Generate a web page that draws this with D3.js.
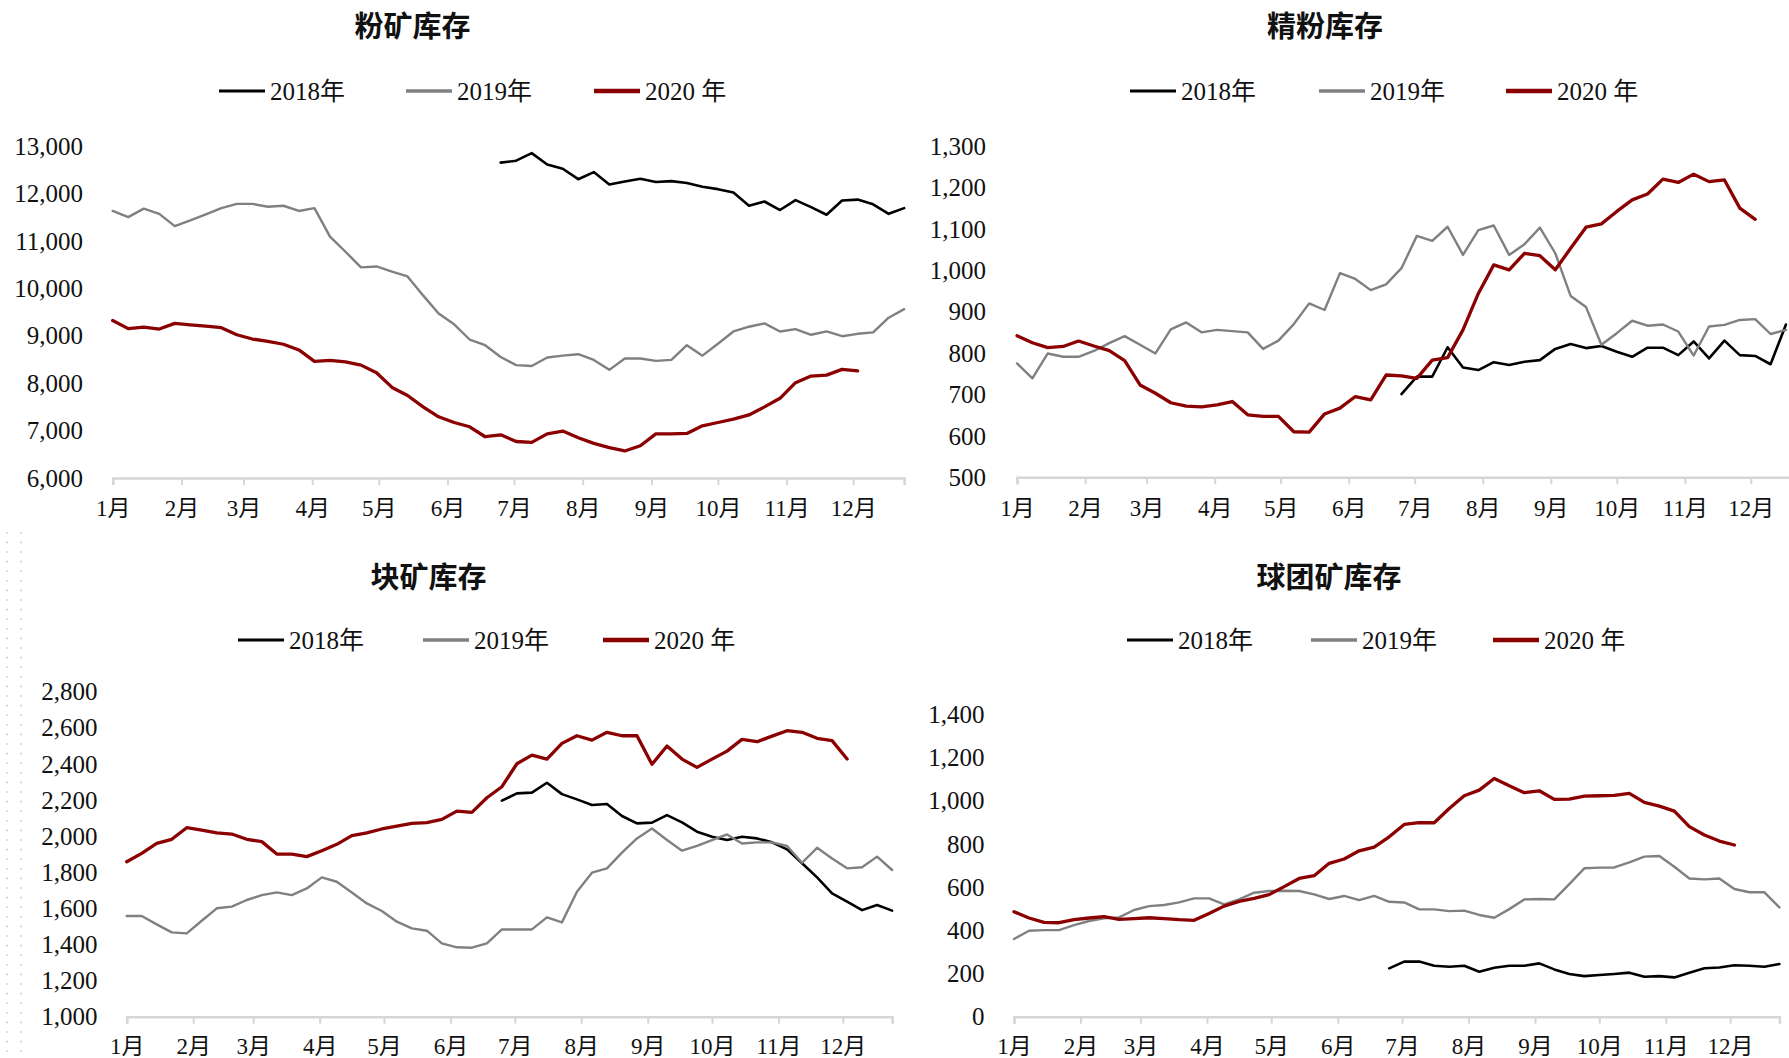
<!DOCTYPE html>
<html><head><meta charset="utf-8">
<script src="https://cdn.jsdelivr.net/npm/d3@7"></script>
<style>body{margin:0;background:#fff}svg{display:block}</style>
</head><body>
<svg id="c" width="1789" height="1058"></svg>
<script>
// ---------- data ----------
const months = ["1月","2月","3月","4月","5月","6月","7月","8月","9月","10月","11月","12月"];
const seriesNames = ["2018年","2019年","2020 年"];
const seriesColors = ["#000000","#808080","#8b0000"];
// weekly series; first observation date (plotted on a common calendar year)
const start2018 = "2019-06-25";
const start2019 = "2019-01-01";
const start2020 = "2019-01-01";

// 粉矿库存
const fine2018 = [12650,12690,12850,12610,12520,12300,12450,12190,12250,12310,12240,12260,12220,12140,12090,12020,11740,11830,11650,11860,11710,11550,11850,11870,11770,11570,11690];
const fine2019 = [11630,11500,11680,11570,11310,11430,11560,11690,11780,11780,11720,11740,11630,11690,11090,10770,10440,10460,10350,10250,9850,9470,9240,8920,8800,8550,8380,8360,8540,8580,8610,8490,8280,8520,8520,8470,8490,8800,8580,8830,9090,9190,9260,9090,9140,9020,9090,8990,9040,9070,9380,9560];
const fine2020 = [9320,9150,9180,9140,9260,9230,9200,9170,9020,8930,8880,8820,8700,8460,8480,8450,8380,8220,7910,7740,7500,7290,7170,7080,6870,6910,6770,6750,6930,6990,6850,6730,6640,6570,6680,6930,6930,6940,7100,7170,7240,7330,7500,7680,8010,8150,8170,8290,8260];
const fineTicks = [6000,7000,8000,9000,10000,11000,12000,13000];

// 精粉库存
const conc2018 = [701,743,743,814,765,759,778,771,779,783,810,822,812,817,803,791,813,813,795,828,787,830,795,793,773,869];
const conc2019 = [775,739,799,791,791,805,824,841,820,799,857,874,850,856,853,850,810,830,870,920,904,993,979,952,966,1005,1083,1071,1105,1037,1097,1108,1037,1063,1103,1041,938,911,820,848,878,866,869,852,794,864,868,880,882,846,856];
const conc2020 = [842,825,813,816,829,817,806,782,723,703,680,672,670,675,683,651,647,647,610,609,653,667,695,687,747,745,739,783,789,856,944,1013,1001,1041,1035,1001,1053,1104,1112,1142,1170,1184,1220,1212,1232,1214,1218,1150,1123];
const concTicks = [500,600,700,800,900,1000,1100,1200,1300];

// 块矿库存
const lump2018 = [2196,2236,2240,2295,2232,2203,2172,2177,2111,2070,2074,2116,2076,2024,1996,1978,1996,1987,1965,1926,1849,1771,1683,1637,1590,1618,1587];
const lump2019 = [1557,1557,1511,1467,1461,1531,1600,1609,1646,1673,1688,1673,1710,1771,1747,1688,1627,1585,1526,1489,1476,1406,1384,1382,1406,1483,1483,1483,1550,1522,1692,1797,1821,1908,1987,2042,1978,1919,1946,1978,2009,1959,1965,1965,1945,1852,1935,1876,1821,1827,1886,1812];
const lump2020 = [1858,1904,1959,1982,2046,2033,2018,2011,1982,1969,1900,1900,1886,1919,1954,2002,2018,2039,2055,2070,2074,2092,2138,2131,2212,2273,2400,2448,2426,2513,2555,2531,2574,2555,2555,2397,2498,2426,2380,2426,2470,2535,2522,2553,2583,2574,2541,2528,2426];
const lumpTicks = [1000,1200,1400,1600,1800,2000,2200,2400,2600,2800];

// 球团矿库存
const pellet2018 = [224,255,255,236,231,236,208,227,236,236,247,219,198,188,193,198,204,185,188,182,204,224,228,238,236,231,244];
const pellet2019 = [360,398,401,401,424,443,455,460,494,512,517,529,548,548,520,543,574,582,583,582,566,545,559,540,559,532,529,497,497,489,491,471,458,498,543,545,543,614,687,690,691,714,741,744,694,640,636,640,591,576,576,506];
const pellet2020 = [486,457,437,435,449,457,463,451,454,458,454,449,446,478,512,534,548,565,602,640,653,710,730,768,785,833,890,898,898,964,1023,1049,1103,1069,1037,1046,1006,1007,1021,1023,1025,1034,992,975,952,880,841,813,795];
const pelletTicks = [0,200,400,600,800,1000,1200,1400];

// ---------- layout ----------
const charts = [
  {title:"粉矿库存", series:[fine2018,fine2019,fine2020], ticks:fineTicks,
   x0:112.7, perDay:2.217, yTop:146, yBot:478, titleX:412.5, titleY:27,
   legendY:91, legendX:[219,406,594], yLabX:83, xLabY:508},
  {title:"精粉库存", series:[conc2018,conc2019,conc2020], ticks:concTicks,
   x0:1017, perDay:2.197, yTop:146, yBot:477.3, titleX:1325, titleY:27,
   legendY:91, legendX:[1130,1319,1506], yLabX:986, xLabY:508},
  {title:"块矿库存", series:[lump2018,lump2019,lump2020], ticks:lumpTicks,
   x0:126.7, perDay:2.144, yTop:691.5, yBot:1016.7, titleX:428.5, titleY:578,
   legendY:640, legendX:[238,423,603], yLabX:97.5, xLabY:1046},
  {title:"球团矿库存", series:[pellet2018,pellet2019,pellet2020], ticks:pelletTicks,
   x0:1014, perDay:2.144, yTop:714.3, yBot:1016.7, titleX:1329, titleY:578,
   legendY:640, legendX:[1127,1311,1493], yLabX:984.5, xLabY:1046}
];
const starts = [start2018, start2019, start2020].map(s => d3.timeParse("%Y-%m-%d")(s));
const strokeW = [2.6, 2.4, 3.3];
const legendW = [3, 3.4, 4.5];
const numFont = "'Liberation Serif','Noto Sans CJK SC',serif";

const svg = d3.select("#c");
svg.append("rect").attr("width",1789).attr("height",1058).attr("fill","#fff");

// dotted decoration at left edge
[7, 21].forEach(px => {
  svg.append("line").attr("x1",px).attr("x2",px).attr("y1",532).attr("y2",1058)
    .attr("stroke","#c9c9c9").attr("stroke-width",1.6).attr("stroke-dasharray","1.6,8");
});

const dayStart = new Date(2019,0,1), dayEnd = new Date(2019,11,24);
const fmt = d3.format(",");

charts.forEach(c => {
  const g = svg.append("g");
  const span = d3.timeDay.count(dayStart, dayEnd);
  const x = d3.scaleTime().domain([dayStart, dayEnd]).range([c.x0, c.x0 + span*c.perDay]);
  const y = d3.scaleLinear().domain([c.ticks[0], c.ticks[c.ticks.length-1]]).range([c.yBot, c.yTop]);

  // title
  g.append("text").attr("x",c.titleX).attr("y",c.titleY).attr("dy","0.36em")
    .attr("text-anchor","middle").attr("font-family","'Noto Sans CJK SC',sans-serif")
    .attr("font-weight",700).attr("font-size",29).attr("fill","#111").text(c.title);

  // legend
  seriesNames.forEach((n,i) => {
    const lx = c.legendX[i];
    g.append("line").attr("x1",lx).attr("x2",lx+46).attr("y1",c.legendY).attr("y2",c.legendY)
      .attr("stroke",seriesColors[i]).attr("stroke-width",legendW[i]);
    g.append("text").attr("x",lx+51).attr("y",c.legendY).attr("dy","0.35em")
      .attr("font-family",numFont).attr("font-size",25).attr("fill","#111").text(n);
  });

  // y labels
  g.selectAll(".yl").data(c.ticks).join("text")
    .attr("x",c.yLabX).attr("y",d=>y(d)).attr("dy","0.35em").attr("text-anchor","end")
    .attr("font-family",numFont).attr("font-size",25).attr("fill","#111").text(d=>fmt(d));

  // x axis
  const monthStarts = d3.timeMonth.range(dayStart, new Date(2019,11,2));
  const axis = d3.axisBottom(x).tickValues(monthStarts).tickSize(7).tickFormat((d,i)=>months[i]);
  const ag = g.append("g").attr("transform",`translate(0,${c.yBot})`).call(axis);
  ag.select(".domain").attr("stroke","#d6d6d6").attr("stroke-width",2.6);
  ag.selectAll(".tick line").attr("stroke","#d6d6d6").attr("stroke-width",2);
  ag.selectAll(".tick text").attr("y", c.xLabY - c.yBot).attr("dy","0.35em")
    .attr("font-family",numFont).attr("font-size",23).attr("fill","#111");

  // series lines: 2018, 2019, 2020 (red on top)
  c.series.forEach((vals,si) => {
    const line = d3.line()
      .x((d,i)=>x(d3.timeDay.offset(starts[si], 7*i)))
      .y(d=>y(d));
    g.append("path").datum(vals).attr("d",line).attr("fill","none")
      .attr("stroke",seriesColors[si]).attr("stroke-width",strokeW[si])
      .attr("stroke-linejoin","round").attr("stroke-linecap","round");
  });
});
</script>
</body></html>
